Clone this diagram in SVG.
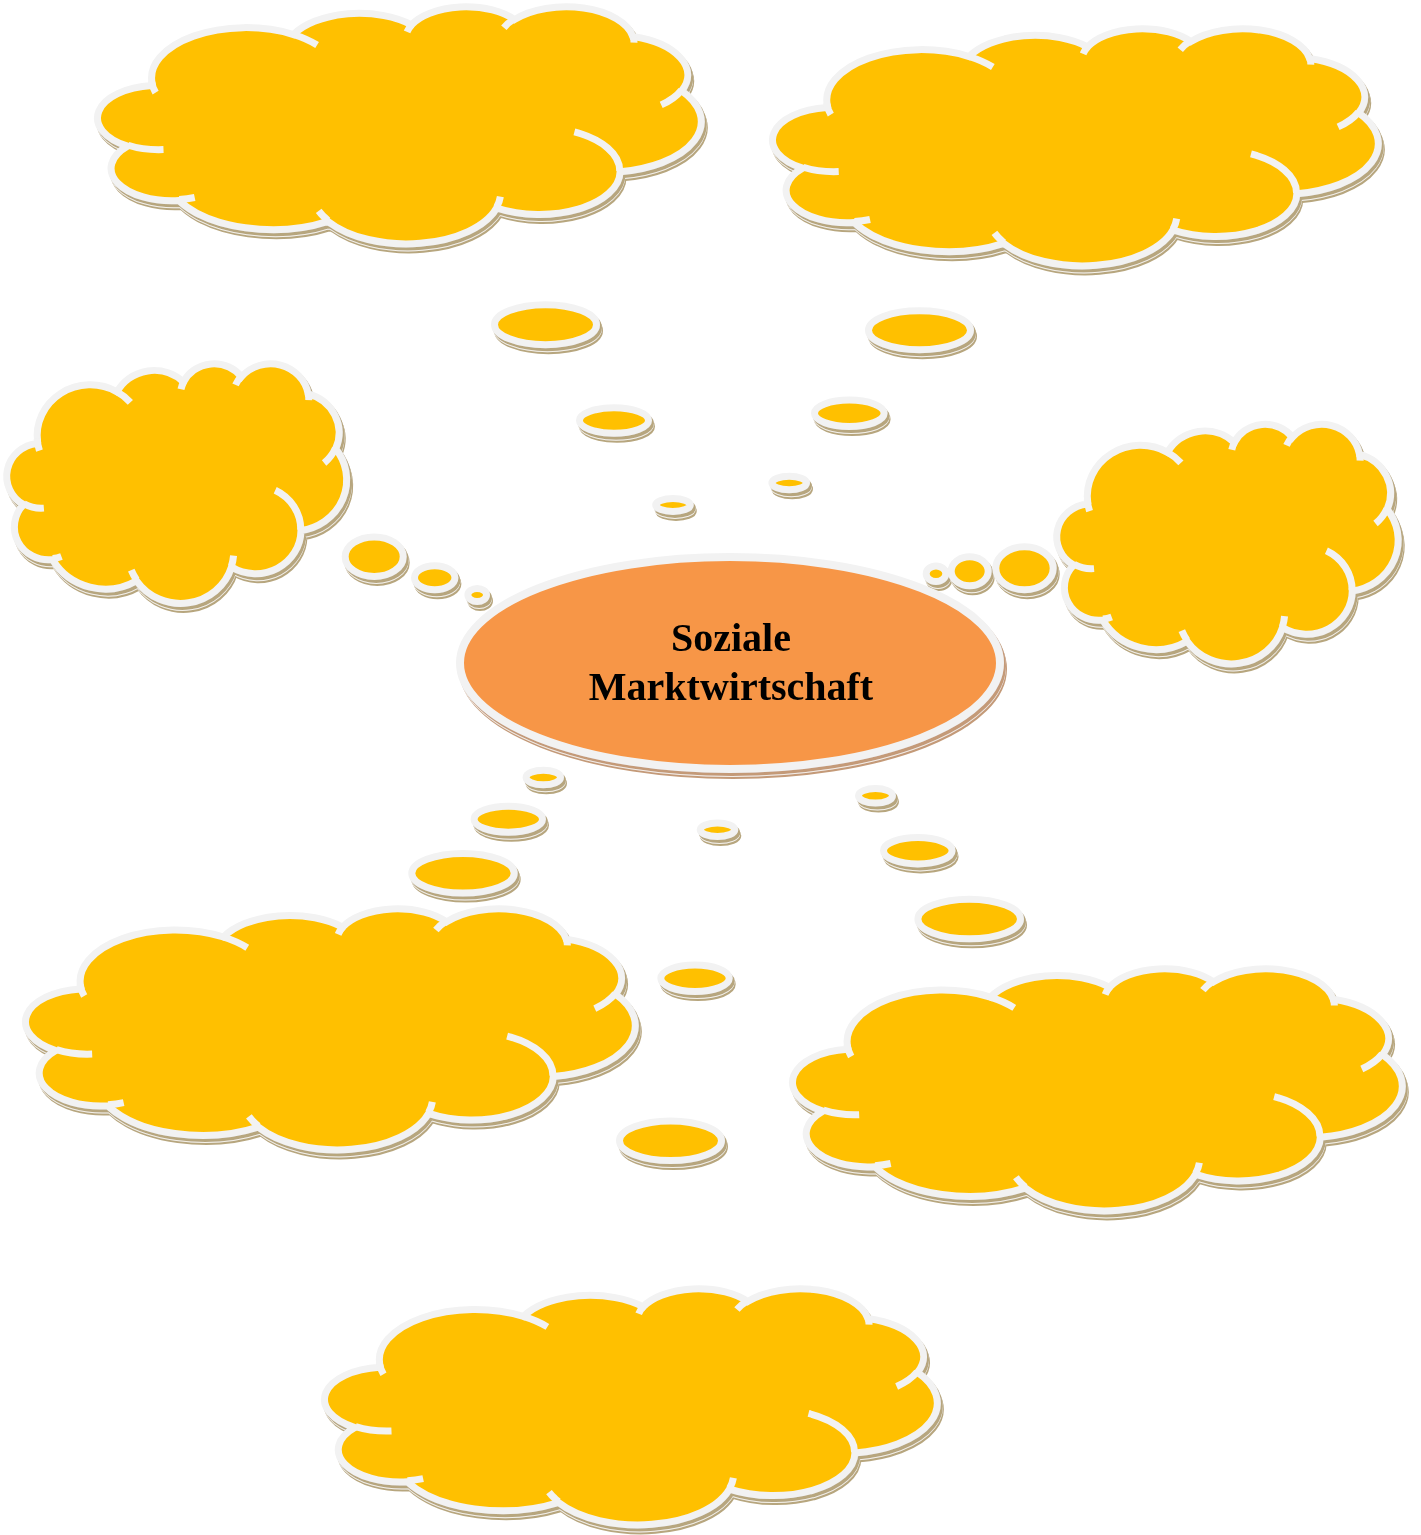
<svg xmlns="http://www.w3.org/2000/svg" xmlns:xlink="http://www.w3.org/1999/xlink" width="1421" height="1535" viewBox="0 0 1421 1535">
<style>
.body{fill:#FFC000;stroke:#F2F2F2;stroke-width:7}
.inner{fill:none;stroke:#F2F2F2;stroke-width:7}
.bub{fill:#FFC000;stroke:#F2F2F2;stroke-width:7}
.center{fill:#F79646;stroke:#F2F2F2;stroke-width:8}
.label{font-family:"Liberation Serif","Times New Roman",serif;font-weight:bold;font-size:40px;fill:#000;text-anchor:middle}
</style>
<defs>
<filter id="sh" x="-0.1" y="-0.1" width="1.2" height="1.2">
<feOffset in="SourceAlpha" dx="2.5" dy="5.5" result="o1"/>
<feFlood flood-color="#B7A67E"/><feComposite in2="o1" operator="in" result="s1"/>
<feOffset in="SourceAlpha" dx="2" dy="4" result="o2"/>
<feFlood flood-color="#F4F1EA"/><feComposite in2="o2" operator="in" result="s2"/>
<feOffset in="SourceAlpha" dx="1.5" dy="3.1" result="o3"/>
<feFlood flood-color="#B7A67E"/><feComposite in2="o3" operator="in" result="s3"/>
<feMerge><feMergeNode in="s1"/><feMergeNode in="s2"/><feMergeNode in="s3"/><feMergeNode in="SourceGraphic"/></feMerge>
</filter>
<filter id="shc" x="-0.1" y="-0.1" width="1.2" height="1.2">
<feOffset in="SourceAlpha" dx="2.5" dy="5.5" result="o1"/>
<feFlood flood-color="#C49A78"/><feComposite in2="o1" operator="in" result="s1"/>
<feOffset in="SourceAlpha" dx="2" dy="4" result="o2"/>
<feFlood flood-color="#F4EEE8"/><feComposite in2="o2" operator="in" result="s2"/>
<feOffset in="SourceAlpha" dx="1.5" dy="3.1" result="o3"/>
<feFlood flood-color="#C49A78"/><feComposite in2="o3" operator="in" result="s3"/>
<feMerge><feMergeNode in="s1"/><feMergeNode in="s2"/><feMergeNode in="s3"/><feMergeNode in="SourceGraphic"/></feMerge>
</filter>
<path id="cloudShape" vector-effect="non-scaling-stroke" d="M39.00,143.70 A67.53 91.90 0 0 1 140.05,52.02 A53.33 72.67 0 0 1 224.56,34.31 A43.65 59.45 0 0 1 298.33,24.80 A48.57 65.95 0 0 1 383.18,55.75 A53.33 72.73 0 0 1 418.19,154.59 A67.75 92.20 0 0 1 374.04,302.02 A57.85 78.67 0 0 1 285.56,368.12 A67.52 92.15 0 0 1 164.80,392.63 A77.20 105.43 0 0 1 58.05,354.68 A43.60 59.18 0 0 1 21.13,255.47 A43.45 59.45 0 0 1 38.63,145.03 Z"/>
<path id="cloudInner" vector-effect="non-scaling-stroke" d="M46.93,261.77 A43.45 59.45 0 0 1 21.60,253.80 M69.28,348.99 A43.60 59.18 0 0 1 58.20,352.81 M164.78,390.90 A67.52 92.15 0 0 1 158.11,373.50 M288.27,347.51 A67.52 92.15 0 0 1 285.60,366.60 M341.29,229.54 A57.85 78.67 0 0 1 373.80,300.90 M417.98,153.54 A53.33 72.73 0 0 1 403.50,180.30 M383.24,54.26 A48.57 65.95 0 0 1 384.00,66.90 M290.78,39.52 A48.57 65.95 0 0 1 298.20,23.40 M221.41,47.20 A43.65 59.45 0 0 1 225.00,33.29 M140.00,51.92 A67.53 91.90 0 0 1 156.97,71.15 M41.27,157.89 A67.53 91.90 0 0 1 38.27,136.63"/>
</defs>
<rect width="1421" height="1535" fill="#FFFFFF"/>
<g filter="url(#sh)">
<g id="cloud-a">
<use href="#cloudShape" class="body" transform="translate(98,6) scale(1.3958,0.5486)"/>
<use href="#cloudInner" class="inner" transform="translate(98,6) scale(1.3958,0.5486)"/>
</g>
<g id="cloud-b">
<use href="#cloudShape" class="body" transform="translate(773,28) scale(1.4005,0.5486)"/>
<use href="#cloudInner" class="inner" transform="translate(773,28) scale(1.4005,0.5486)"/>
</g>
<g id="cloud-c">
<use href="#cloudShape" class="body" transform="translate(7,363) scale(0.7859,0.5544)"/>
<use href="#cloudInner" class="inner" transform="translate(7,363) scale(0.7859,0.5544)"/>
</g>
<g id="cloud-d">
<use href="#cloudShape" class="body" transform="translate(1057,423.5) scale(0.7894,0.5544)"/>
<use href="#cloudInner" class="inner" transform="translate(1057,423.5) scale(0.7894,0.5544)"/>
</g>
<g id="cloud-e">
<use href="#cloudShape" class="body" transform="translate(26,908) scale(1.4097,0.5579)"/>
<use href="#cloudInner" class="inner" transform="translate(26,908) scale(1.4097,0.5579)"/>
</g>
<g id="cloud-f">
<use href="#cloudShape" class="body" transform="translate(793,968) scale(1.4097,0.5602)"/>
<use href="#cloudInner" class="inner" transform="translate(793,968) scale(1.4097,0.5602)"/>
</g>
<g id="cloud-g">
<use href="#cloudShape" class="body" transform="translate(325,1288) scale(1.4167,0.5463)"/>
<use href="#cloudInner" class="inner" transform="translate(325,1288) scale(1.4167,0.5463)"/>
</g>
<g id="connectors">
<g id="bubbles-a">
<ellipse class="bub" cx="545.5" cy="324.7" rx="51" ry="20"/>
<ellipse class="bub" cx="614" cy="420.5" rx="34.5" ry="12.7"/>
<ellipse class="bub" cx="673" cy="505" rx="17.3" ry="6.5"/>
</g>
<g id="bubbles-b">
<ellipse class="bub" cx="919.5" cy="330.3" rx="51" ry="19.5"/>
<ellipse class="bub" cx="849.3" cy="413.3" rx="34.8" ry="13.2"/>
<ellipse class="bub" cx="789.2" cy="483" rx="17.3" ry="6.8"/>
</g>
<g id="bubbles-c">
<ellipse class="bub" cx="374.2" cy="556.7" rx="29" ry="19.8"/>
<ellipse class="bub" cx="434.7" cy="577.8" rx="20.2" ry="12"/>
<ellipse class="bub" cx="477.2" cy="595" rx="9.3" ry="6.5"/>
</g>
<g id="bubbles-d">
<ellipse class="bub" cx="1024.5" cy="568.3" rx="28.7" ry="21.5"/>
<ellipse class="bub" cx="969.7" cy="571.3" rx="18.5" ry="14.5"/>
<ellipse class="bub" cx="936" cy="573.7" rx="9.8" ry="7.8"/>
</g>
<g id="bubbles-e">
<ellipse class="bub" cx="543.3" cy="777.5" rx="17.2" ry="7.3"/>
<ellipse class="bub" cx="508.3" cy="819.2" rx="34.2" ry="13"/>
<ellipse class="bub" cx="463" cy="873.3" rx="51.2" ry="19.8"/>
</g>
<g id="bubbles-g">
<ellipse class="bub" cx="717.5" cy="829.7" rx="17.3" ry="6.8"/>
<ellipse class="bub" cx="695" cy="978.3" rx="34.2" ry="13.2"/>
<ellipse class="bub" cx="670.5" cy="1140.7" rx="51" ry="19.8"/>
</g>
<g id="bubbles-f">
<ellipse class="bub" cx="875.5" cy="795.8" rx="17" ry="7.3"/>
<ellipse class="bub" cx="917.8" cy="850.7" rx="34.3" ry="13.2"/>
<ellipse class="bub" cx="969.2" cy="919" rx="51.3" ry="19.8"/>
</g>
</g>
</g>
<g id="center" filter="url(#shc)">
<ellipse class="center" cx="730" cy="663" rx="270" ry="106"/>
<text class="label" x="731" y="651">Soziale</text>
<text class="label" x="731" y="700">Marktwirtschaft</text>
</g>
</svg>
